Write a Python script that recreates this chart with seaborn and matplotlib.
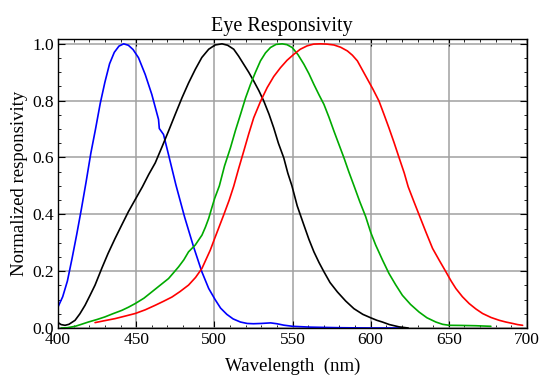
import matplotlib
matplotlib.use("Agg")
import matplotlib.pyplot as plt
import seaborn as sns
import pandas as pd
from matplotlib.ticker import MultipleLocator

# ---- data ----
blue_x = [400, 403, 406, 409, 412, 415, 418, 421, 424, 427, 430, 433, 436, 439, 442, 445, 448,
          451.5, 455.8, 460, 464.3, 464.8, 467.5, 470.7, 475.4, 481, 486.7, 492, 496.4, 500.5,
          504, 508, 512, 516.7, 521, 525, 530, 536, 540, 544.4, 550, 561.5, 580, 600, 622]
blue_y = [0.074, 0.11, 0.165, 0.245, 0.33, 0.42, 0.515, 0.615, 0.70, 0.79, 0.865, 0.93, 0.97,
          0.992, 1.0, 0.995, 0.98, 0.951, 0.892, 0.822, 0.734, 0.702, 0.681, 0.610, 0.504, 0.39,
          0.286, 0.198, 0.139, 0.10, 0.07, 0.048, 0.032, 0.021, 0.016, 0.015, 0.016, 0.018,
          0.015, 0.01, 0.006, 0.003, 0.001, 0.0, 0.0]

black_x = [400, 402, 404.5, 407, 410.9, 414, 417.3, 420.5, 423.7, 428, 432, 436.5, 441, 445,
           450, 454, 458, 462.2, 466.5, 470.7, 475, 479.3, 483.5, 487.8, 492, 496.4, 500.5,
           504.9, 508.5, 512.4, 515.5, 518.8, 522, 525.2, 528.5, 531.6, 535, 538, 541, 544.4,
           547, 549.6, 553, 557.3, 560.5, 563.7, 567, 570.1, 574, 578.7, 584, 589.3, 595, 600,
           604, 607.5, 612, 618.2, 624]
black_y = [0.019, 0.012, 0.0095, 0.013, 0.027, 0.05, 0.08, 0.115, 0.151, 0.21, 0.262, 0.315,
           0.365, 0.409, 0.458, 0.497, 0.54, 0.581, 0.637, 0.693, 0.752, 0.81, 0.862, 0.91,
           0.952, 0.981, 0.996, 1.0, 0.995, 0.981, 0.957, 0.928, 0.9, 0.869, 0.835, 0.799,
           0.752, 0.704, 0.65, 0.599, 0.545, 0.501, 0.43, 0.362, 0.312, 0.268, 0.23, 0.198,
           0.16, 0.127, 0.095, 0.068, 0.048, 0.036, 0.027, 0.021, 0.012, 0.004, 0.0]

green_x = [402, 406, 411, 415, 419.4, 425, 430, 435, 440.8, 445, 449.4, 455, 460, 465, 470.7,
           474, 477.1, 480.5, 483.5, 487.8, 490, 492.1, 494.3, 496.4, 498.5, 500.2, 503.2,
           506.5, 510.3, 513.5, 516.7, 520, 523.1, 526.3, 529.5, 532.7, 535.9, 539.5, 543.4,
           546.5, 549.8, 553.5, 557.3, 560.5, 563.7, 567, 570.1, 573.3, 576.5, 579.7, 582.9,
           586, 589.3, 593, 596.8, 600, 603.2, 607.5, 611.7, 616, 620.3, 625.5, 631, 636,
           641.7, 646, 650.2, 658, 667.3, 672, 676.9]
green_y = [0.0, 0.001, 0.006, 0.013, 0.021, 0.03, 0.039, 0.05, 0.062, 0.073, 0.086, 0.105,
           0.127, 0.149, 0.174, 0.195, 0.215, 0.24, 0.268, 0.292, 0.31, 0.327, 0.355, 0.386,
           0.425, 0.456, 0.50, 0.57, 0.634, 0.695, 0.751, 0.81, 0.857, 0.90, 0.94, 0.968,
           0.987, 0.998, 1.0, 0.997, 0.987, 0.962, 0.928, 0.895, 0.857, 0.82, 0.787, 0.742,
           0.693, 0.646, 0.599, 0.55, 0.501, 0.445, 0.392, 0.337, 0.292, 0.24, 0.192, 0.152,
           0.115, 0.083, 0.056, 0.036, 0.021, 0.013, 0.0095, 0.009, 0.008, 0.007, 0.006]

red_x = [423.7, 430, 436.5, 443, 449.4, 455.8, 462.2, 467.5, 472.9, 478, 483.5, 488, 492.1,
         495, 497.4, 500.2, 503, 506, 509.5, 512.4, 515.5, 518.8, 522, 525.2, 529.5, 533.8,
         538, 542.3, 546.5, 550.8, 555, 559.4, 563.5, 567.9, 572, 576.5, 580.8, 585.1, 588.3,
         591.5, 595, 598, 601.5, 605.3, 608.5, 611.7, 615, 618.2, 621.5, 624, 627.5, 631,
         635.3, 639.6, 644, 648.1, 651.5, 654.5, 658.7, 663, 667.3, 671.6, 677, 682.3, 686.5,
         690.8, 694, 697.2]
red_y = [0.019, 0.026, 0.033, 0.042, 0.051, 0.064, 0.08, 0.094, 0.109, 0.128, 0.151, 0.178,
         0.21, 0.245, 0.274, 0.315, 0.355, 0.398, 0.45, 0.499, 0.56, 0.622, 0.683, 0.74, 0.797,
         0.846, 0.885, 0.916, 0.942, 0.963, 0.981, 0.993, 0.999, 1.0, 0.999, 0.996, 0.988,
         0.975, 0.96, 0.94, 0.905, 0.875, 0.84, 0.799, 0.752, 0.704, 0.652, 0.599, 0.545,
         0.497, 0.447, 0.398, 0.338, 0.28, 0.237, 0.198, 0.165, 0.139, 0.11, 0.086, 0.067,
         0.051, 0.037, 0.027, 0.021, 0.016, 0.012, 0.0095]

x_ticks = [400, 450, 500, 550, 600, 650, 700]
y_ticks = [0.0, 0.2, 0.4, 0.6, 0.8, 1.0]

series = [
    (blue_x, blue_y, "#0000ff"),
    (black_x, black_y, "#000000"),
    (green_x, green_y, "#00aa00"),
    (red_x, red_y, "#ff0000"),
]

# ---- style ----
sns.set_style("ticks")
plt.rcParams['font.family'] = ['Liberation Serif', 'DejaVu Serif']
plt.rcParams['text.color'] = 'black'
plt.rcParams['axes.labelcolor'] = 'black'
plt.rcParams['xtick.color'] = 'black'
plt.rcParams['ytick.color'] = 'black'
plt.rcParams['lines.solid_joinstyle'] = 'round'

fig = plt.figure(figsize=(5.42, 3.8), dpi=100)
ax = fig.add_axes([58 / 542, 1 - 328 / 380, (527 - 58) / 542, (328 - 39) / 380])

for xs, ys, col in series:
    df = pd.DataFrame({"x": xs, "y": ys})
    sns.lineplot(data=df, x="x", y="y", ax=ax, color=col, linewidth=1.2, sort=False)

ax.set_xlim(400, 700)
ax.set_ylim(0, 1.017)
ax.set_xticks(x_ticks)
ax.set_yticks(y_ticks)
ax.set_xticklabels([str(v) for v in x_ticks])
ax.set_yticklabels([f"{v:.1f}" for v in y_ticks])
ax.xaxis.set_minor_locator(MultipleLocator(10))
ax.yaxis.set_minor_locator(MultipleLocator(0.05))

ax.set_axisbelow(True)
ax.grid(True, which="major", color="#a0a0a0", linewidth=1.1)
ax.tick_params(which="both", direction="in", top=True, right=True, colors="black",
               labelcolor="black", labelsize=12.5, pad=3)
ax.tick_params(which="major", length=5, width=0.8)
ax.tick_params(which="minor", length=2.5, width=0.6)
for sp in ax.spines.values():
    sp.set_color("black")
    sp.set_linewidth(1.0)

ax.set_title("Eye Responsivity", fontsize=14.5, pad=6, color="black", x=0.478)
ax.set_xlabel("Wavelength  (nm)", fontsize=13.5, labelpad=7, color="black")
ax.set_ylabel("Normalized responsivity", fontsize=13.5, labelpad=3, color="black")

fig.savefig("out.png", dpi=100)
